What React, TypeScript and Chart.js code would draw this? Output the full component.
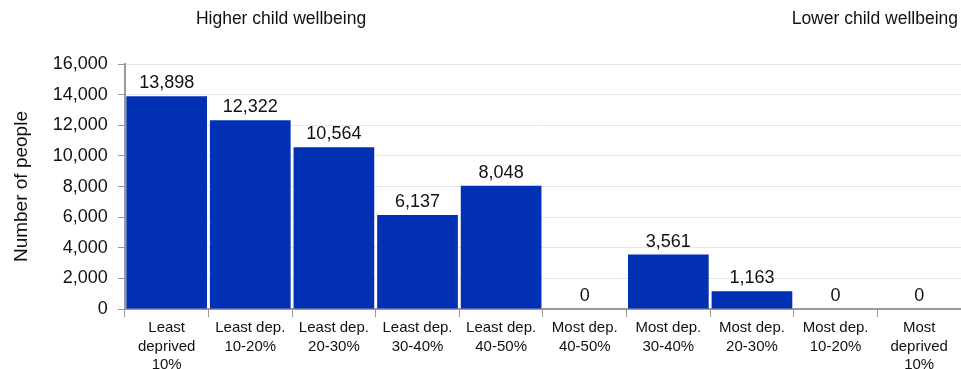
import React, { useEffect, useRef } from "react";
import { Chart, registerables } from "chart.js";

Chart.register(...registerables);

const categories: string[][] = [
  ["Least", "deprived", "10%"],
  ["Least dep.", "10-20%"],
  ["Least dep.", "20-30%"],
  ["Least dep.", "30-40%"],
  ["Least dep.", "40-50%"],
  ["Most dep.", "40-50%"],
  ["Most dep.", "30-40%"],
  ["Most dep.", "20-30%"],
  ["Most dep.", "10-20%"],
  ["Most", "deprived", "10%"],
];
const values: number[] = [13898, 12322, 10564, 6137, 8048, 0, 3561, 1163, 0, 0];
const leftNote = "Higher child wellbeing";
const rightNote = "Lower child wellbeing";
const yTitle = "Number of people";

const FONT = "'Liberation Sans', Arial, sans-serif";

const labelPlugin = {
  id: "valueLabels",
  afterDatasetsDraw(chart: any) {
    const ctx = chart.ctx;
    const meta = chart.getDatasetMeta(0);
    ctx.save();
    ctx.font = `18px ${FONT}`;
    ctx.fillStyle = "#111";
    ctx.textAlign = "center";
    ctx.textBaseline = "alphabetic";
    meta.data.forEach((bar: any, i: number) => {
      ctx.fillText(values[i].toLocaleString("en-US"), bar.x, bar.y - 8);
    });
    ctx.restore();
  },
};

const notesPlugin = {
  id: "notes",
  afterDraw(chart: any) {
    const ctx = chart.ctx;
    ctx.save();
    ctx.font = `17.5px ${FONT}`;
    ctx.fillStyle = "#111";
    ctx.textBaseline = "middle";
    ctx.textAlign = "center";
    ctx.fillText(leftNote, 281, 19);
    ctx.textAlign = "right";
    ctx.fillText(rightNote, 958, 19);
    ctx.restore();
  },
};

export default function App() {
  const ref = useRef<HTMLCanvasElement>(null);
  useEffect(() => {
    document.body.style.margin = "0";
    const chart = new Chart(ref.current!, {
      type: "bar",
      data: {
        labels: categories,
        datasets: [
          {
            data: values,
            backgroundColor: "#0230B4",
            barPercentage: 0.965,
            categoryPercentage: 1,
          },
        ],
      },
      options: {
        animation: false,
        responsive: false,
        maintainAspectRatio: false,
        layout: { padding: { top: 64, right: 0, bottom: -7, left: 10 } },
        plugins: {
          legend: { display: false },
          tooltip: { enabled: false },
        },
        scales: {
          x: {
            grid: {
              display: true,
              drawOnChartArea: false,
              tickLength: 8,
              color: "#999",
              offset: true,
            },
            border: { color: "#999", width: 2 },
            ticks: {
              font: { family: FONT, size: 15, lineHeight: 1.22 },
              color: "#111",
              maxRotation: 0,
              autoSkip: false,
              padding: 2,
            },
          },
          y: {
            min: 0,
            max: 16000,
            ticks: {
              stepSize: 2000,
              font: { family: FONT, size: 18 },
              color: "#111",
              padding: 10,
              callback: (v: any) => Number(v).toLocaleString("en-US"),
            },
            grid: { color: "#e6e6e6", tickLength: 7, tickColor: "#999" },
            border: { color: "#999", width: 2 },
            title: {
              display: true,
              text: yTitle,
              font: { family: FONT, size: 19 },
              color: "#111",
              padding: { top: 0, bottom: 10 },
            },
          },
        },
      },
      plugins: [labelPlugin, notesPlugin],
    });
    return () => chart.destroy();
  }, []);
  return (
    <div style={{ position: "absolute", left: 0, top: 0, width: 961, height: 369 }}>
      <canvas ref={ref} width={961} height={369} />
    </div>
  );
}
